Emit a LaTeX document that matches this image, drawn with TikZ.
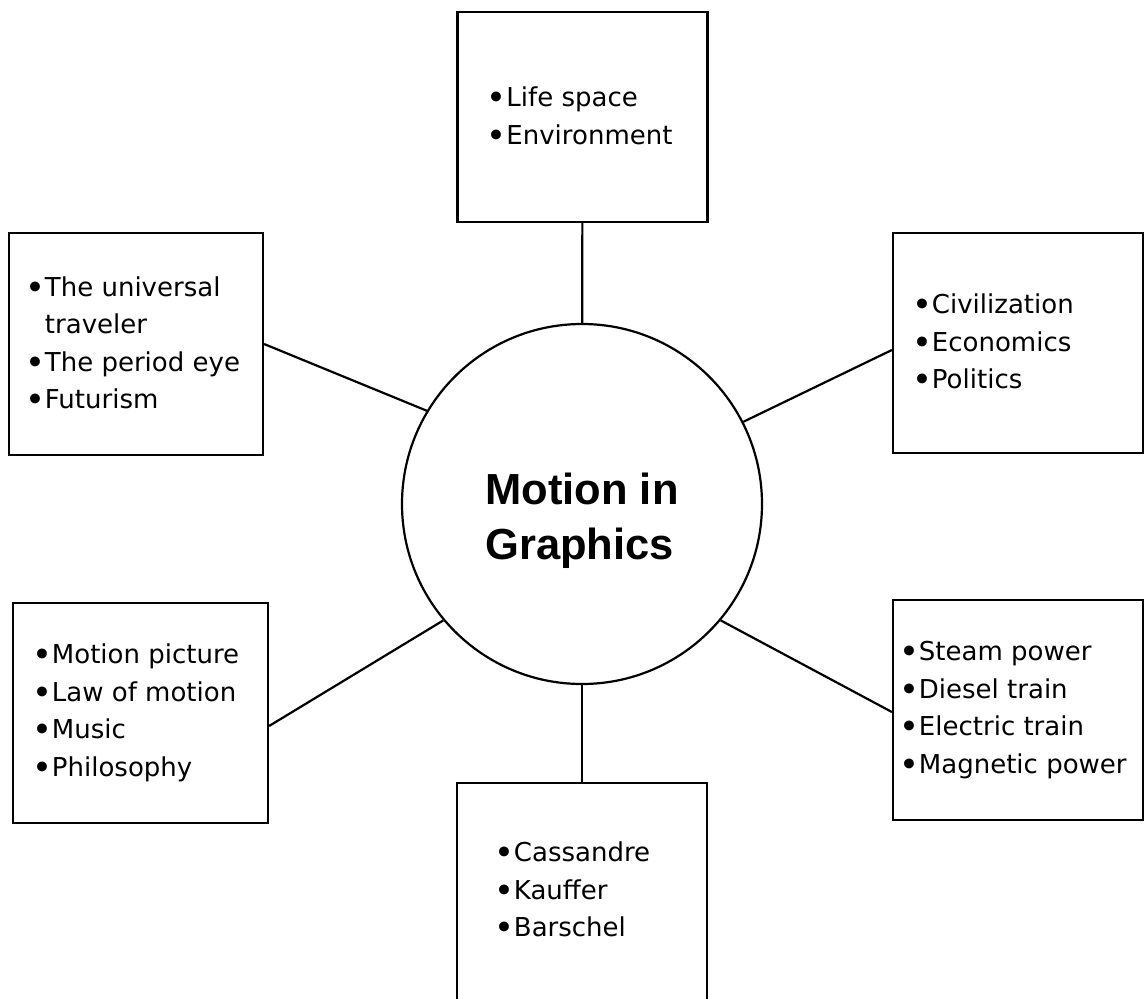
\documentclass[tikz,border=0pt]{standalone}
\usepackage{fontspec}
\setmainfont{DejaVu Sans}
\newfontfamily\titlefont{Liberation Sans}
\usetikzlibrary{positioning}
\newcommand{\bul}{\raisebox{-0.11em}{\scalebox{1.3}{\textbullet}}}

\begin{document}
\begin{tikzpicture}[x=1pt,y=-1pt,line width=2.2pt,
  box/.style={draw,rectangle,inner sep=0pt,minimum width=250pt,minimum height=220pt},
  items/.style={inner sep=0pt,align=left,font=\fontsize{26}{37.5}\selectfont}]
 \useasboundingbox (0,0) rectangle (1144,999);
 \node (hub) [draw,circle,minimum size=360pt,inner sep=0pt] at (582,504) {};
 \node (title) [inner sep=0pt,align=left,font=\titlefont\bfseries\fontsize{43.5}{55}\selectfont] at (582,521) {Motion in\\Graphics};

 \node (space)  [box,minimum height=210pt] at (582.5,117) {};
 \node (travel) [box,minimum width=254pt,minimum height=222pt] at (136,344) {};
 \node (civil)  [box] at (1018,343) {};
 \node (film)   [box,minimum width=255pt] at (140.5,713) {};
 \node (train)  [box] at (1018,710) {};
 \node (poster) [box,minimum height=240pt] at (582,903) {};

 \node (spacetext)  [items,right=29pt of space.west]  {\bul Life space\\\bul Environment};
 \node (traveltext) [items,right=16pt of travel.west] {\bul The universal\\\phantom{\bul}traveler\\\bul The period eye\\\bul Futurism};
 \node (civiltext)  [items,right=19pt of civil.west]  {\bul Civilization\\\bul Economics\\\bul Politics};
 \node (filmtext)   [items,right=19pt of film.west]   {\bul Motion picture\\\bul Law of motion\\\bul Music\\\bul Philosophy};
 \node (traintext)  [items,right=6pt of train.west]   {\bul Steam power\\\bul Diesel train\\\bul Electric train\\\bul Magnetic power};
 \node (postertext) [items,right=37pt of poster.west,yshift=12pt] {\bul Cassandre\\\bul Kauffer\\\bul Barschel};

 \draw (space) -- (hub);
 \draw (hub) -- (poster);
 \draw (travel.east) -- (hub.149);
 \draw ([yshift=-7pt]civil.west) -- (hub.27);
 \draw ([yshift=-13pt]film.east) -- (hub.220);
 \draw ([yshift=-2pt]train.west) -- (hub.320);
\end{tikzpicture}
\end{document}
